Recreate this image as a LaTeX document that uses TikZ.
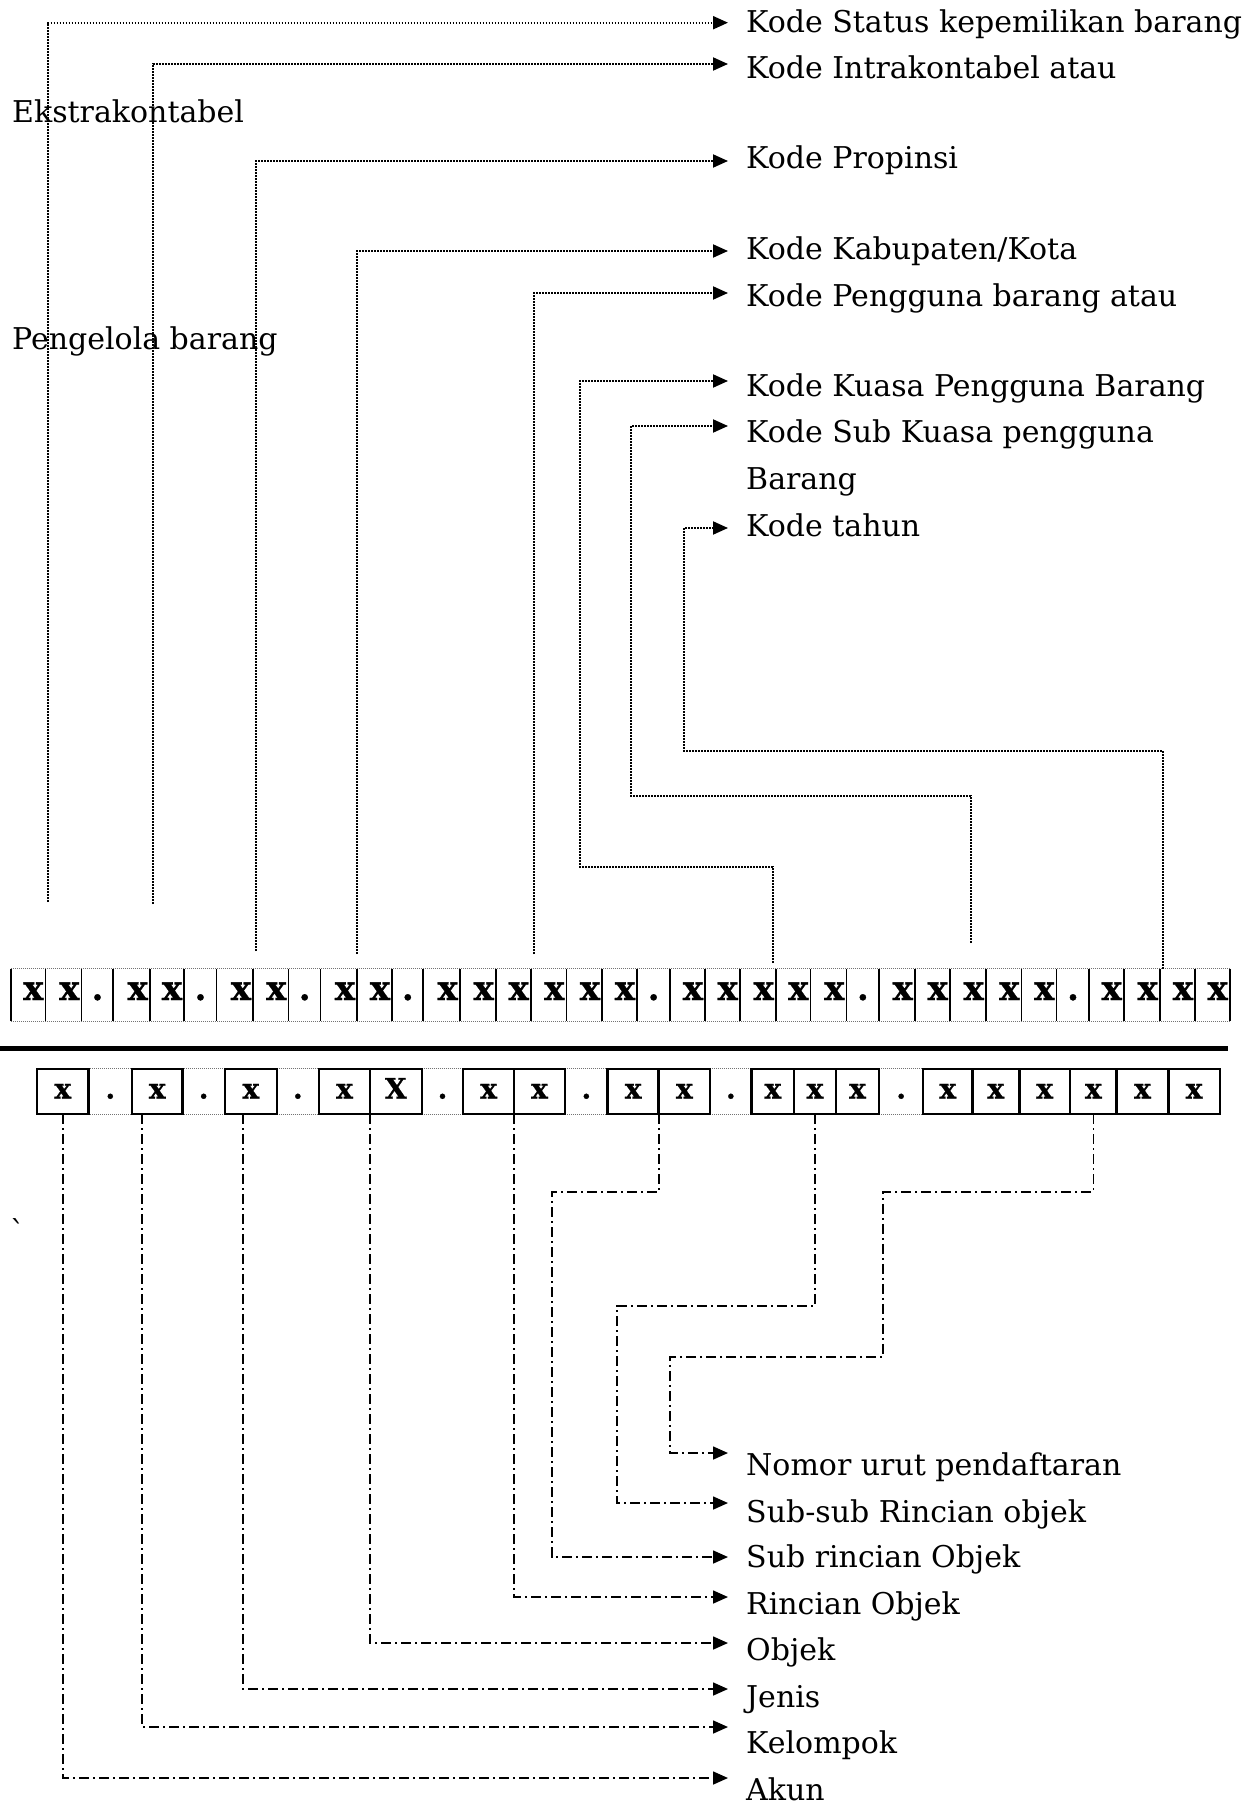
\documentclass[tikz,border=0pt]{standalone}
\usepackage{fontspec}
\setmainfont{DejaVu Serif}
\newfontfamily\xfam{DejaVu Serif}[BoldFeatures={FakeBold=0.8}]
\usetikzlibrary{arrows.meta}
\newcommand\labfont{\fontsize{30}{36}\selectfont}
\newcommand\topxfont{\xfam\fontsize{34}{34}\selectfont\bfseries}
\newcommand\botxfont{\xfam\fontsize{28}{28}\selectfont\bfseries}
\tikzset{
  lab/.style={anchor=base west, inner sep=0pt, font=\labfont},
  tcell/.style={rectangle, inner sep=0pt, minimum height=52pt},
  topx/.style={inner sep=0pt, font=\topxfont},
  bcell/.style={rectangle, inner sep=0pt, minimum height=45pt, text height=14pt, text depth=0pt, font=\botxfont},
  tvert/.style={line width=1.5pt},
  tdotb/.style={line width=0.8pt, black!55, dash pattern=on 1pt off 1pt},
  bbox/.style={line width=2.2pt},
  tline/.style={line width=2pt, dash pattern=on 1.6pt off 1.4pt, -{Triangle[length=15pt,width=13pt]}},
  bline/.style={line width=1.6pt, dash pattern=on 10pt off 4pt on 2pt off 4pt, -{Triangle[length=15pt,width=13pt]}}
}
\begin{document}
\begin{tikzpicture}[x=1pt,y=-1pt]
\useasboundingbox (0,0) rectangle (1260,1806);

% ---------------- top code row ----------------
\def\xchar{x}
\foreach \l/\r/\c [count=\i] in {
 11/45.7/x,45.7/81.7/x,81.7/113.3/.,
 113.3/150/x,150/184.3/x,184.3/216.7/.,
 216.7/253.3/x,253.3/288.7/x,288.7/320.7/.,
 320.7/357.3/x,357.3/392.3/x,392.3/423.3/.,
 423.3/460/x,460/496/x,496/531/x,531/566.7/x,566.7/602.3/x,602.3/637.3/x,
 637.3/670/.,
 670/705.3/x,705.3/740/x,740/776/x,776/810.7/x,810.7/846.7/x,
 846.7/879/.,
 879/915/x,915/950/x,950/986/x,986/1021.7/x,1021.7/1056.7/x,
 1056.7/1089.3/.,
 1089.3/1124/x,1124/1160/x,1160/1195.3/x,1195.3/1230/x}{
  \pgfmathsetmacro\w{\r-\l}
  \node[tcell, minimum width=\w pt] (t\i) at ({(\l+\r)/2},995) {};
  \ifx\c\xchar
    \node[topx, anchor=base east] (tx\i) at (\r-2,1000) {x};
  \else
    \node[topx, anchor=base] (tx\i) at ({(\l+\r)/2},1000) {.};
  \fi
}
\draw[tdotb] (t1.north west) -- (t35.north east);
\draw[tdotb] (t1.south west) -- (t35.south east);
\foreach \i in {1,...,35} \draw[tvert] (t\i.north west) -- (t\i.south west);
\draw[tvert] (t35.north east) -- (t35.south east);

% thick separator
\draw[line width=5pt] (0,1048.5) -- (1228,1048.5);

% ---------------- bottom code row ----------------
\foreach \l/\r/\c [count=\i] in {
 37.3/88.3/x,88.3/132.3/.,132.3/182.3/x,182.3/225/.,225/276.7/x,276.7/319/.,
 319/370/x,370/421.7/X,421.7/463.3/.,463.3/514/x,514/565/x,565/607.7/.,
 607.7/658.7/x,658.7/710/x,710/751.7/.,751.7/794/x,794/836/x,836/879/x,879/923.3/.,
 923.3/972.3/x,972.3/1019.3/x,1019.3/1070/x,1070/1116.7/x,1116.7/1168.3/x,1168.3/1220/x}{
  \pgfmathsetmacro\w{\r-\l}
  \node[bcell, minimum width=\w pt] (b\i) at ({(\l+\r)/2},1091.5) {\c};
}
\foreach \i in {2,4,6,9,12,15,19}
  \draw[tdotb] (b\i.north west) -- (b\i.north east) (b\i.south west) -- (b\i.south east);
\foreach \i in {1,3,5,7,8,10,11,13,14,16,17,18,20,21,22,23,24,25}
  \draw[bbox] (b\i.north west) rectangle (b\i.south east);

% ---------------- top labels ----------------
\node[lab] (L1) at (746,33) {Kode Status kepemilikan barang};
\node[lab] (L2) at (746,79) {Kode Intrakontabel atau};
\node[lab] (L2b) at (12,123) {Ekstrakontabel};
\node[lab] (L3) at (746,169) {Kode Propinsi};
\node[lab] (L4) at (746,259) {Kode Kabupaten/Kota};
\node[lab] (L5) at (746,306) {Kode Pengguna barang atau};
\node[lab] (L5b) at (12,349) {Pengelola barang};
\node[lab] (L6) at (746,396) {Kode Kuasa Pengguna Barang};
\node[lab] (L7) at (746,442) {Kode Sub Kuasa pengguna};
\node[lab] (L7b) at (746,489) {Barang};
\node[lab] (L8) at (746,536) {Kode tahun};

\coordinate (a1) at (728,22.7);
\coordinate (a2) at (728,64);
\coordinate (a3) at (728,161);
\coordinate (a4) at (728,251);
\coordinate (a5) at (728,293);
\coordinate (a6) at (728,381);
\coordinate (a7) at (728,426);
\coordinate (a8) at (728,528);

\coordinate (s1) at (48,902);
\coordinate (s2) at (153,904);
\coordinate (s3) at (256,951);
\coordinate (s4) at (357,954);
\coordinate (s5) at (534,954);
\coordinate (s6) at (773,963);
\coordinate (k6) at (580,867);
\coordinate (s7) at (971,943);
\coordinate (k7) at (631,796);
\coordinate (k8) at (684,751);

\draw[tline] (s1) |- (a1);
\draw[tline] (s2) |- (a2);
\draw[tline] (s3) |- (a3);
\draw[tline] (s4) |- (a4);
\draw[tline] (s5) |- (a5);
\draw[tline] (s6) |- (k6) |- (a6);
\draw[tline] (s7) |- (k7) |- (a7);
\draw[tline] ([xshift=3pt]t34.north west) |- (k8) |- (a8);

% ---------------- bottom labels ----------------
\node[lab] (B1) at (746,1475) {Nomor urut pendaftaran};
\node[lab] (B2) at (746,1522) {Sub-sub Rincian objek};
\node[lab] (B3) at (746,1567) {Sub rincian Objek};
\node[lab] (B4) at (746,1614) {Rincian Objek};
\node[lab] (B5) at (746,1660) {Objek};
\node[lab] (B6) at (746,1707) {Jenis};
\node[lab] (B7) at (746,1753) {Kelompok};
\node[lab] (B8) at (746,1800) {Akun};

\node[lab] (gr) at (10,1242) {\symbol{"02CB}};

\coordinate (c1) at (728,1453);
\coordinate (c2) at (728,1503);
\coordinate (c3) at (728,1557);
\coordinate (c4) at (728,1597);
\coordinate (c5) at (728,1643);
\coordinate (c6) at (728,1689);
\coordinate (c7) at (728,1727);
\coordinate (c8) at (728,1778);

\coordinate (m6) at (552,1192);
\coordinate (m7) at (617,1306);
\coordinate (m8a) at (883,1192);
\coordinate (m8b) at (670,1357);

\draw[bline] (b1.south) |- (c8);
\draw[bline] ([xshift=10pt]b3.south west) |- (c7);
\draw[bline] ([xshift=18pt]b5.south west) |- (c6);
\draw[bline] (b7.south east) |- (c5);
\draw[bline] (b10.south east) |- (c4);
\draw[bline] (b13.south east) |- (m6) |- (c3);
\draw[bline] (b17.south) |- (m7) |- (c2);
\draw[bline] (b23.south) |- (m8a) |- (m8b) |- (c1);
\end{tikzpicture}
\end{document}
